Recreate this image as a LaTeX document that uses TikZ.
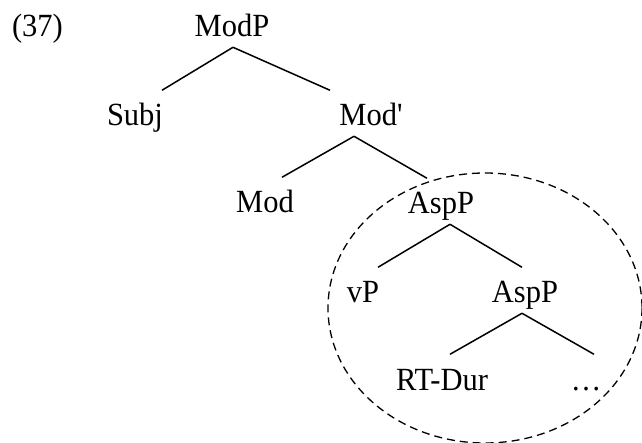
\documentclass[tikz,border=0pt]{standalone}
\usepackage{fontspec}
\setmainfont{Liberation Serif}
\begin{document}
\begin{tikzpicture}[x=1pt,y=-1pt,
  lbl/.style={anchor=base,inner xsep=0pt,inner ysep=9.5pt,text height=24pt,text depth=0pt,
    yscale=1.06,transform shape,
    font=\fontsize{30.5}{36}\selectfont},
  branch/.style={line width=1.5pt},
  halo/.style={line width=1.3pt,dash pattern=on 8pt off 5pt}]
\useasboundingbox (0,0) rectangle (642,443);

% example number
\node[lbl] (num) at (37.5,37) {(37)};

% tree labels
\node[lbl] (ModP)  at (232,37)  {ModP};
\node[lbl] (Subj)  at (135,126) {Subj};
\node[lbl] (ModB)  at (371,126) {Mod\textquotesingle};
\node[lbl] (Mod)   at (265,213) {Mod};
\node[lbl] (AspA)  at (441,214) {AspP};
\node[lbl] (vP)    at (363,303) {vP};
\node[lbl] (AspB)  at (525,303) {AspP};
\node[lbl] (RTDur) at (442,390) {RT-Dur};
\node[lbl] (dots)  at (586,390) {…};

% branches
\draw[branch] ([xshift=1pt]ModP.south) -- ([xshift=27pt]Subj.north);
\draw[branch] ([xshift=1pt]ModP.south) -- ([xshift=-41pt]ModB.north);
\draw[branch] ([xshift=-17pt]ModB.south) -- ([xshift=17pt]Mod.north);
\draw[branch] ([xshift=-17pt]ModB.south) -- ([xshift=-14pt]AspA.north);
\draw[branch] ([xshift=9pt]AspA.south) -- ([xshift=15pt]vP.north);
\draw[branch] ([xshift=9pt]AspA.south) -- ([xshift=-3pt]AspB.north);
\draw[branch] ([xshift=-3pt]AspB.south) -- ([xshift=8pt]RTDur.north);
\draw[branch] ([xshift=-3pt]AspB.south) -- ([xshift=8pt]dots.north);

% dashed ring round the aspect domain
\draw[halo] (485,308) ellipse [x radius=157, y radius=135];
\end{tikzpicture}
\end{document}
